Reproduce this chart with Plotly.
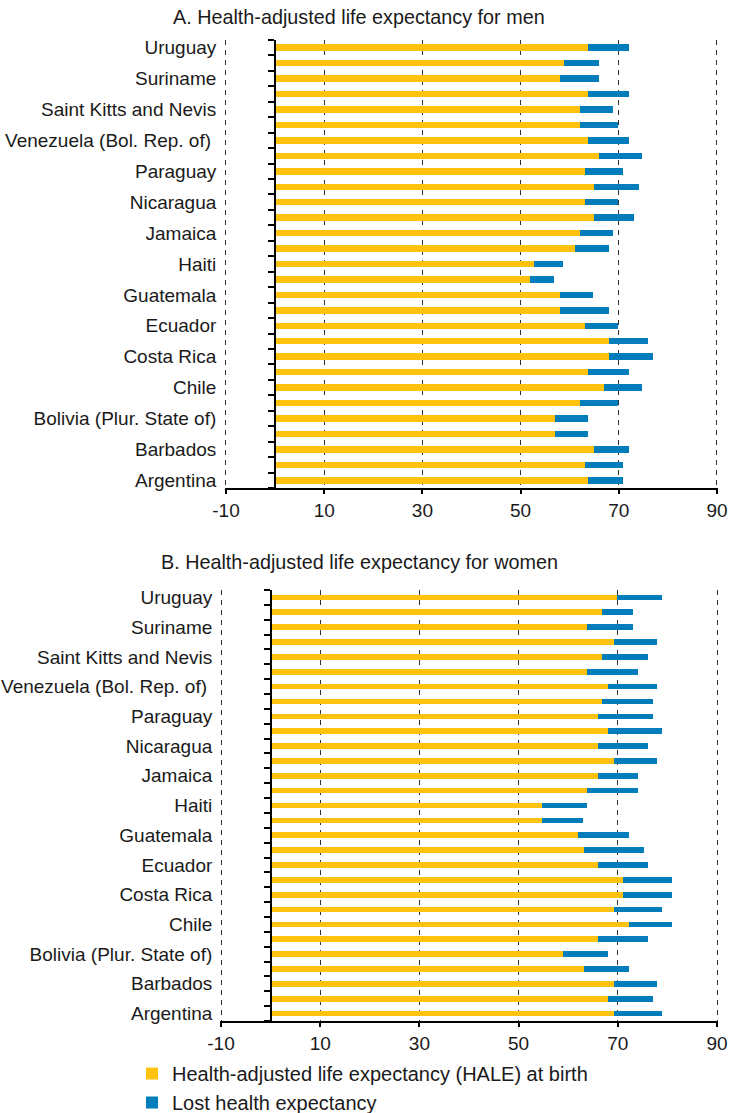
import plotly.graph_objects as go

# Countries, top to bottom as drawn
countries = [
    "Uruguay", "Trinidad and Tobago", "Suriname", "Saint Vincent and the Grenadines",
    "Saint Kitts and Nevis", "Saint Lucia", "Venezuela (Bol. Rep. of)", "Peru",
    "Paraguay", "Panama", "Nicaragua", "Mexico", "Jamaica", "Honduras", "Haiti",
    "Guyana", "Guatemala", "El Salvador", "Ecuador", "Dominican Republic",
    "Costa Rica", "Colombia", "Chile", "Brazil", "Bolivia (Plur. State of)",
    "Belize", "Barbados", "Bahamas", "Argentina",
]
# Tick labels (only every other country is labelled in the original)
tick_labels = [
    "Uruguay", "", "Suriname", "", "Saint Kitts and Nevis", "",
    "Venezuela (Bol. Rep. of)\u00a0", "", "Paraguay", "", "Nicaragua", "",
    "Jamaica", "", "Haiti", "", "Guatemala", "", "Ecuador", "", "Costa Rica", "",
    "Chile", "", "Bolivia (Plur. State of)", "", "Barbados", "", "Argentina",
]

# Men: HALE at birth and total life expectancy
men_hale = [63.8, 58.8, 58.1, 63.8, 62.0, 62.0, 63.8, 66.0, 63.1, 64.9, 63.1, 64.9,
            62.0, 61.0, 52.7, 52.0, 58.1, 58.1, 63.1, 68.0, 68.0, 63.8, 67.0, 62.0,
            57.0, 57.0, 64.9, 63.1, 63.8]
men_total = [72.0, 65.9, 65.9, 72.0, 68.8, 69.9, 72.0, 74.8, 70.9, 74.1, 69.9, 73.1,
             68.8, 68.0, 58.7, 56.9, 64.8, 68.0, 69.9, 75.9, 76.9, 72.0, 74.8, 69.9,
             63.7, 63.7, 72.0, 70.9, 70.9]
men_lost = [round(t - h, 1) for t, h in zip(men_total, men_hale)]

# Women
women_hale = [69.9, 66.9, 63.8, 69.2, 66.9, 63.8, 68.0, 66.9, 66.1, 68.0, 66.1, 69.2,
              66.1, 63.8, 54.7, 54.7, 61.9, 63.1, 66.1, 71.1, 71.1, 69.2, 72.2, 66.1,
              58.9, 63.1, 69.2, 68.0, 69.2]
women_total = [79.0, 73.0, 73.0, 77.9, 76.0, 74.1, 77.9, 77.1, 77.1, 79.0, 76.0, 77.9,
               74.1, 74.1, 63.8, 63.0, 72.2, 75.2, 76.0, 80.9, 80.9, 79.0, 80.9, 76.0,
               68.0, 72.2, 77.9, 77.1, 79.0]
women_lost = [round(t - h, 1) for t, h in zip(women_total, women_hale)]

x_ticks = [-10, 10, 30, 50, 70, 90]
x_tick_text = ["-10", "10", "30", "50", "70", "90"]
series_names = ["Health-adjusted life expectancy (HALE) at birth", "Lost health expectancy"]
titles = ["A. Health-adjusted life expectancy for men",
          "B. Health-adjusted life expectancy for women"]

YELLOW = "#FFC20E"
BLUE = "#007DBA"
FONT = "Arial, Liberation Sans, sans-serif"
TXT = "#1a1a1a"

W, H = 735, 1113
PAD = 0.3  # small range padding so edge gridlines are drawn

fig = go.Figure()

panels = [
    dict(hale=men_hale, lost=men_lost, xa="x", ya="y", width=0.42, showlegend=True),
    dict(hale=women_hale, lost=women_lost, xa="x2", ya="y2", width=0.38, showlegend=False),
]
for p in panels:
    fig.add_trace(go.Bar(
        y=countries, x=p["hale"], orientation="h", name=series_names[0],
        marker=dict(color=YELLOW, line=dict(width=0)), width=p["width"],
        xaxis=p["xa"], yaxis=p["ya"], showlegend=p["showlegend"], legendrank=1,
    ))
    fig.add_trace(go.Bar(
        y=countries, x=p["lost"], orientation="h", name=series_names[1],
        marker=dict(color=BLUE, line=dict(width=0)), width=p["width"],
        xaxis=p["xa"], yaxis=p["ya"], showlegend=p["showlegend"], legendrank=2,
    ))


def fx(px):
    return px / W


def fy(px):
    return 1 - px / H


def xdom(left_px, right_px):
    ppu = (right_px - left_px) / 100.0
    return [fx(left_px - PAD * ppu), fx(right_px + PAD * ppu)]


xaxis_common = dict(
    range=[-10 - PAD, 90 + PAD], tickmode="array", tickvals=x_ticks, ticktext=x_tick_text,
    showgrid=True, griddash="5px,5px", gridcolor="#333333", gridwidth=1.2,
    showline=True, linecolor="black", linewidth=1.8,
    ticks="outside", ticklen=4, tickcolor="black", tickwidth=1.5,
    zeroline=False, tickfont=dict(size=19, color=TXT, family=FONT),
    automargin=False, fixedrange=True,
)
yaxis_common = dict(
    type="category", autorange="reversed", tickmode="array",
    tickvals=countries, ticktext=tick_labels, tickson="boundaries",
    ticks="outside", ticklen=6, tickcolor="black", tickwidth=1.5,
    showline=True, linecolor="black", linewidth=1.8, showgrid=False,
    tickfont=dict(size=19, color=TXT, family=FONT),
    anchor="free", ticklabelstandoff=54, zeroline=False, automargin=False,
    fixedrange=True,
)

fig.update_layout(
    width=W, height=H,
    margin=dict(l=0, r=0, t=0, b=0, autoexpand=False),
    paper_bgcolor="white", plot_bgcolor="white",
    barmode="stack", bargap=0.5,
    font=dict(family=FONT, size=18, color=TXT),
    xaxis=dict(domain=xdom(226, 717), anchor="y", **xaxis_common),
    yaxis=dict(domain=[fy(488), fy(40)], position=fx(275), **yaxis_common),
    xaxis2=dict(domain=xdom(221, 717), anchor="y2", **xaxis_common),
    yaxis2=dict(domain=[fy(1021), fy(590)], position=fx(271), **yaxis_common),
    legend=dict(
        x=fx(132), y=fy(1054), xanchor="left", yanchor="top",
        orientation="v", font=dict(size=20, color=TXT, family=FONT),
        bgcolor="rgba(0,0,0,0)", traceorder="normal", tracegroupgap=0,
    ),
    annotations=[
        dict(text=titles[0], x=fx(359), y=fy(17), xref="paper", yref="paper",
             xanchor="center", yanchor="middle", showarrow=False,
             font=dict(size=19.8, color=TXT, family=FONT)),
        dict(text=titles[1], x=fx(359), y=fy(562), xref="paper", yref="paper",
             xanchor="center", yanchor="middle", showarrow=False,
             font=dict(size=19.8, color=TXT, family=FONT)),
    ],
)

fig.write_html(
    "out.html",
    config={"displayModeBar": False, "staticPlot": False},
    post_script="document.body.style.margin='0px';document.body.style.overflow='hidden';",
)
